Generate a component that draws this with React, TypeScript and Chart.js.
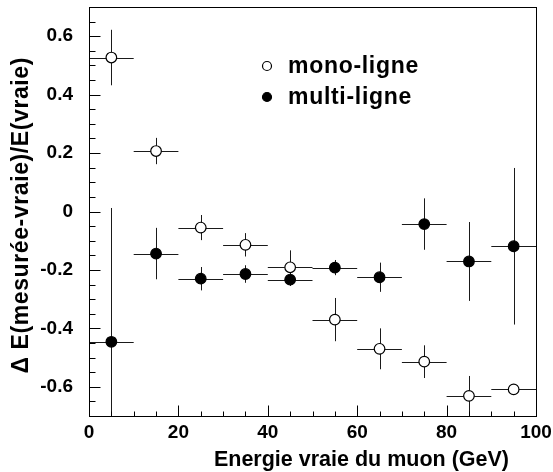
import React, { useEffect, useRef } from 'react';
import { Chart, registerables } from 'chart.js';

Chart.register(...registerables);

// ---- data ----
const energy = [5, 15, 25, 35, 45, 55, 65, 75, 85, 95];
const energyHalfBin = [5, 5, 5, 5, 5, 5, 5, 5, 5, 5];
const monoValues = [0.527, 0.207, -0.055, -0.114, -0.191, -0.37, -0.47, -0.514, -0.631, -0.609];
const monoErrors = [0.095, 0.045, 0.043, 0.04, 0.058, 0.074, 0.07, 0.056, 0.068, 0.01];
const multiValues = [-0.446, -0.144, -0.23, -0.214, -0.233, -0.192, -0.225, -0.043, -0.171, -0.119];
const multiErrors = [0.458, 0.088, 0.04, 0.03, 0.022, 0.026, 0.05, 0.088, 0.135, 0.268];
const xTickValues = [0, 20, 40, 60, 80, 100];
const yTickValues = [-0.6, -0.4, -0.2, 0, 0.2, 0.4, 0.6];
const xTitle = 'Energie vraie du muon (GeV)';
const yTitle = 'Δ E(mesurée-vraie)/E(vraie)';
const legendLabels = ['mono-ligne', 'multi-ligne'];

const FONT = "'Liberation Sans', Arial, Helvetica, sans-serif";

const errorBarPlugin = {
  id: 'errorBars',
  beforeDatasetsDraw(chart: any) {
    const { ctx, chartArea, scales } = chart;
    const xs = scales.x;
    const ys = scales.y;
    ctx.save();
    ctx.beginPath();
    ctx.rect(chartArea.left, chartArea.top, chartArea.right - chartArea.left, chartArea.bottom - chartArea.top);
    ctx.clip();
    ctx.strokeStyle = '#1a1a1a';
    ctx.lineWidth = 1;
    const sets = [
      { v: monoValues, e: monoErrors },
      { v: multiValues, e: multiErrors },
    ];
    sets.forEach((s) => {
      energy.forEach((en, i) => {
        const px = Math.round(xs.getPixelForValue(en)) + 0.5;
        const py = Math.round(ys.getPixelForValue(s.v[i])) + 0.5;
        const x1 = xs.getPixelForValue(en - energyHalfBin[i]);
        const x2 = xs.getPixelForValue(en + energyHalfBin[i]);
        const y1 = ys.getPixelForValue(s.v[i] + s.e[i]);
        const y2 = ys.getPixelForValue(s.v[i] - s.e[i]);
        ctx.beginPath();
        ctx.moveTo(x1, py);
        ctx.lineTo(x2, py);
        ctx.moveTo(px, y1);
        ctx.lineTo(px, y2);
        ctx.stroke();
      });
    });
    ctx.restore();
  },
};

const framePlugin = {
  id: 'frameTicks',
  afterDatasetsDraw(chart: any) {
    const { ctx, chartArea, scales } = chart;
    const xs = scales.x;
    const ys = scales.y;
    const L = Math.round(chartArea.left) + 0.5;
    const R = Math.round(chartArea.right) + 0.5;
    const T = Math.round(chartArea.top) + 0.5;
    const B = Math.round(chartArea.bottom) + 0.5;
    ctx.save();
    ctx.strokeStyle = '#000';
    ctx.lineWidth = 1;
    ctx.strokeRect(L, T, R - L, B - T);
    ctx.beginPath();
    // x ticks, every 5, major every 20
    for (let k = 1; k < 20; k++) {
      const v = k * 5;
      const px = Math.round(xs.getPixelForValue(v)) + 0.5;
      const len = k % 4 === 0 ? 11 : 5;
      ctx.moveTo(px, B);
      ctx.lineTo(px, B - len);
    }
    // y ticks, every 0.05, major every 0.2
    for (let k = -13; k <= 13; k++) {
      const v = k * 0.05;
      const py = Math.round(ys.getPixelForValue(v)) + 0.5;
      const len = k % 4 === 0 ? 11 : 6;
      ctx.moveTo(L, py);
      ctx.lineTo(L + len, py);
    }
    ctx.stroke();
    ctx.restore();
  },
};

const textPlugin = {
  id: 'titlesLegend',
  afterDraw(chart: any) {
    const { ctx, chartArea } = chart;
    ctx.save();
    ctx.fillStyle = '#000';
    // x title, right aligned
    ctx.font = `bold 21.5px ${FONT}`;
    ctx.textAlign = 'right';
    ctx.textBaseline = 'alphabetic';
    ctx.fillText(xTitle, chartArea.right - 27, 466);
    // y title, rotated, right aligned at top
    ctx.save();
    ctx.font = `bold 23px ${FONT}`;
    (ctx as any).letterSpacing = '0.6px';
    ctx.translate(22, chartArea.top + 50);
    ctx.rotate(-Math.PI / 2);
    ctx.textAlign = 'right';
    ctx.textBaseline = 'middle';
    ctx.fillText(yTitle, 0, 0);
    ctx.restore();
    // legend
    const mx = 267;
    const rows = [66, 97];
    ctx.lineWidth = 1.2;
    ctx.strokeStyle = '#000';
    rows.forEach((ry, i) => {
      ctx.beginPath();
      ctx.arc(mx, ry, 4.5, 0, Math.PI * 2);
      ctx.fillStyle = i === 0 ? '#fff' : '#000';
      ctx.fill();
      ctx.stroke();
      ctx.fillStyle = '#000';
      ctx.font = `bold 23px ${FONT}`;
      (ctx as any).letterSpacing = '0.7px';
      ctx.textAlign = 'left';
      ctx.textBaseline = 'middle';
      ctx.fillText(legendLabels[i], 288, ry + 1);
    });
    ctx.restore();
  },
};

export default function App() {
  const canvasRef = useRef<HTMLCanvasElement | null>(null);

  useEffect(() => {
    document.body.style.margin = '0';
    const canvas = canvasRef.current;
    if (!canvas) return;
    const chart = new Chart(canvas, {
      type: 'scatter',
      data: {
        datasets: [
          {
            label: legendLabels[0],
            data: energy.map((e, i) => ({ x: e, y: monoValues[i] })),
            pointRadius: 5.3,
            pointBackgroundColor: '#fff',
            pointBorderColor: '#000',
            pointBorderWidth: 1.2,
            showLine: false,
          },
          {
            label: legendLabels[1],
            data: energy.map((e, i) => ({ x: e, y: multiValues[i] })),
            pointRadius: 5.3,
            pointBackgroundColor: '#000',
            pointBorderColor: '#000',
            pointBorderWidth: 1.2,
            showLine: false,
          },
        ],
      },
      options: {
        animation: false,
        responsive: false,
        devicePixelRatio: 1,
        layout: { padding: { left: 0, right: 17, top: 7, bottom: 0 } },
        plugins: {
          legend: { display: false },
          tooltip: { enabled: false },
        },
        scales: {
          x: {
            type: 'linear',
            min: 0,
            max: 100,
            grid: { display: false, drawTicks: false, tickLength: 0 },
            border: { display: false },
            ticks: {
              color: '#000',
              font: { family: FONT, size: 19, weight: 'bold' },
              padding: 5,
              maxRotation: 0,
              autoSkip: false,
            },
            afterBuildTicks: (s: any) => {
              s.ticks = xTickValues.map((v) => ({ value: v }));
            },
            afterFit: (s: any) => {
              s.height = 56;
              s.paddingLeft = 0;
              s.paddingRight = 0;
            },
          },
          y: {
            type: 'linear',
            min: -0.7,
            max: 0.7,
            grid: { display: false, drawTicks: false, tickLength: 0 },
            border: { display: false },
            ticks: {
              color: '#000',
              font: { family: FONT, size: 19, weight: 'bold' },
              padding: 16,
              autoSkip: false,
              callback: (v: any) => (Math.abs(Number(v)) < 1e-9 ? '0' : Number(v).toFixed(1)),
            },
            afterBuildTicks: (s: any) => {
              s.ticks = yTickValues.map((v) => ({ value: v }));
            },
            afterFit: (s: any) => {
              s.width = 89;
              s.paddingTop = 0;
              s.paddingBottom = 0;
            },
          },
        },
      },
      plugins: [errorBarPlugin, framePlugin, textPlugin],
    } as any);
    return () => chart.destroy();
  }, []);

  return (
    <div style={{ width: 553, height: 472 }}>
      <canvas ref={canvasRef} width={553} height={472} />
    </div>
  );
}
